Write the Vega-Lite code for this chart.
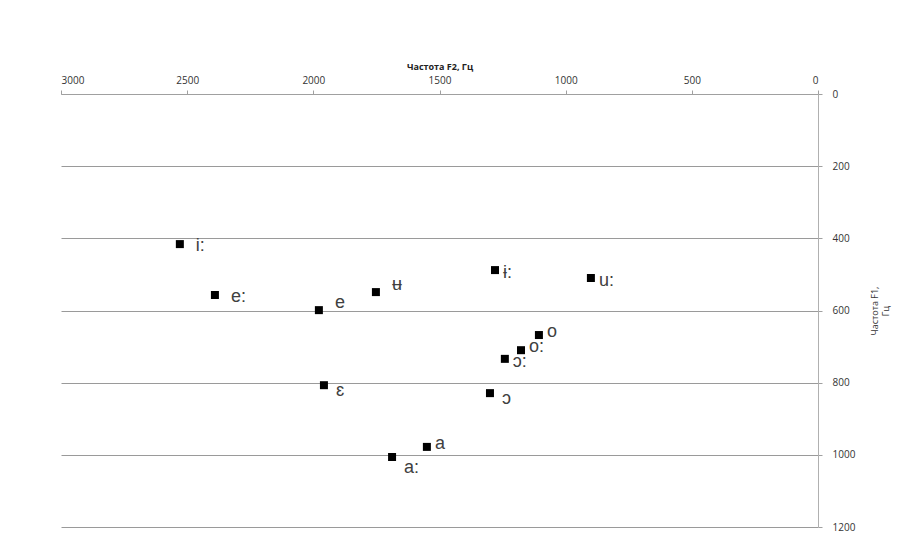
{
  "$schema": "https://vega.github.io/schema/vega-lite/v6.json",
  "autosize": {"type": "none"},
  "width": 757,
  "height": 433,
  "padding": {"left": 61, "top": 94, "right": 103, "bottom": 28},
  "background": "white",
  "config": {"view": {"stroke": null}},
  "data": {"values": [
    {"vowel": "i:", "F2": 2529, "F1": 416},
    {"vowel": "e:", "F2": 2390, "F1": 557},
    {"vowel": "e", "F2": 1978, "F1": 599},
    {"vowel": "ʉ", "F2": 1752, "F1": 549},
    {"vowel": "ɨ:", "F2": 1280, "F1": 488},
    {"vowel": "u:", "F2": 900, "F1": 510},
    {"vowel": "o", "F2": 1106, "F1": 668},
    {"vowel": "o:", "F2": 1177, "F1": 710},
    {"vowel": "ɔ:", "F2": 1241, "F1": 734},
    {"vowel": "ɔ", "F2": 1300, "F1": 829},
    {"vowel": "ɛ", "F2": 1958, "F1": 807},
    {"vowel": "a", "F2": 1550, "F1": 978},
    {"vowel": "a:", "F2": 1688, "F1": 1006}
  ]},
  "encoding": {
    "x": {
      "field": "F2", "type": "quantitative",
      "scale": {"domain": [0, 3000], "reverse": true, "nice": false, "zero": false},
      "axis": {
        "orient": "top", "title": "Частота F2, Гц", "values": [0, 500, 1000, 1500, 2000, 2500, 3000], "format": "d",
        "grid": false, "domainColor": "#a0a0a0", "tickColor": "#a0a0a0", "tickSize": 4,
        "labelFont": "Open Sans", "labelFontSize": 10, "labelColor": "#333333", "labelPadding": 5,
        "titleFont": "Open Sans", "titleFontSize": 9, "titleFontWeight": "bold", "titleColor": "#222222", "titlePadding": 4
      }
    },
    "y": {
      "field": "F1", "type": "quantitative",
      "scale": {"domain": [0, 1200], "reverse": true, "nice": false, "zero": false},
      "axis": {
        "orient": "right", "title": ["Частота F1,", "Гц"], "values": [0, 200, 400, 600, 800, 1000, 1200], "format": "d",
        "grid": true, "gridColor": "#9a9a9a", "gridWidth": 1,
        "domainColor": "#b0b0b0", "tickColor": "#a0a0a0", "tickSize": 4,
        "labelFont": "Open Sans", "labelFontSize": 10, "labelColor": "#333333", "labelPadding": 10,
        "titleFont": "Open Sans", "titleFontSize": 9, "titleFontWeight": "normal", "titleColor": "#333333",
        "titleAngle": 270, "titlePadding": 14
      }
    }
  },
  "layer": [
    {"mark": {"type": "point", "shape": "square", "filled": true, "color": "black", "size": 64, "opacity": 1}},
    {"transform": [{"filter": {"field": "vowel", "oneOf": ["i:", "e:"]}}],
     "mark": {"type": "text", "align": "left", "baseline": "middle", "dx": 16, "dy": 2, "font": "Liberation Sans", "fontSize": 18, "color": "#404040"},
     "encoding": {"text": {"field": "vowel"}}},
    {"transform": [{"filter": {"field": "vowel", "oneOf": ["e", "ʉ"]}}],
     "mark": {"type": "text", "align": "left", "baseline": "middle", "dx": 16, "dy": -7, "font": "Liberation Sans", "fontSize": 18, "color": "#404040"},
     "encoding": {"text": {"field": "vowel"}}},
    {"transform": [{"filter": {"field": "vowel", "oneOf": ["ɨ:", "u:", "ɔ:"]}}],
     "mark": {"type": "text", "align": "left", "baseline": "middle", "dx": 8, "dy": 3, "font": "Liberation Sans", "fontSize": 18, "color": "#404040"},
     "encoding": {"text": {"field": "vowel"}}},
    {"transform": [{"filter": {"field": "vowel", "oneOf": ["o", "o:", "a"]}}],
     "mark": {"type": "text", "align": "left", "baseline": "middle", "dx": 8, "dy": -3, "font": "Liberation Sans", "fontSize": 18, "color": "#404040"},
     "encoding": {"text": {"field": "vowel"}}},
    {"transform": [{"filter": {"field": "vowel", "oneOf": ["ɔ", "ɛ"]}}],
     "mark": {"type": "text", "align": "left", "baseline": "middle", "dx": 12, "dy": 6, "font": "Liberation Sans", "fontSize": 18, "color": "#404040"},
     "encoding": {"text": {"field": "vowel"}}},
    {"transform": [{"filter": {"field": "vowel", "oneOf": ["a:"]}}],
     "mark": {"type": "text", "align": "left", "baseline": "middle", "dx": 12, "dy": 11, "font": "Liberation Sans", "fontSize": 18, "color": "#404040"},
     "encoding": {"text": {"field": "vowel"}}}
  ]
}
